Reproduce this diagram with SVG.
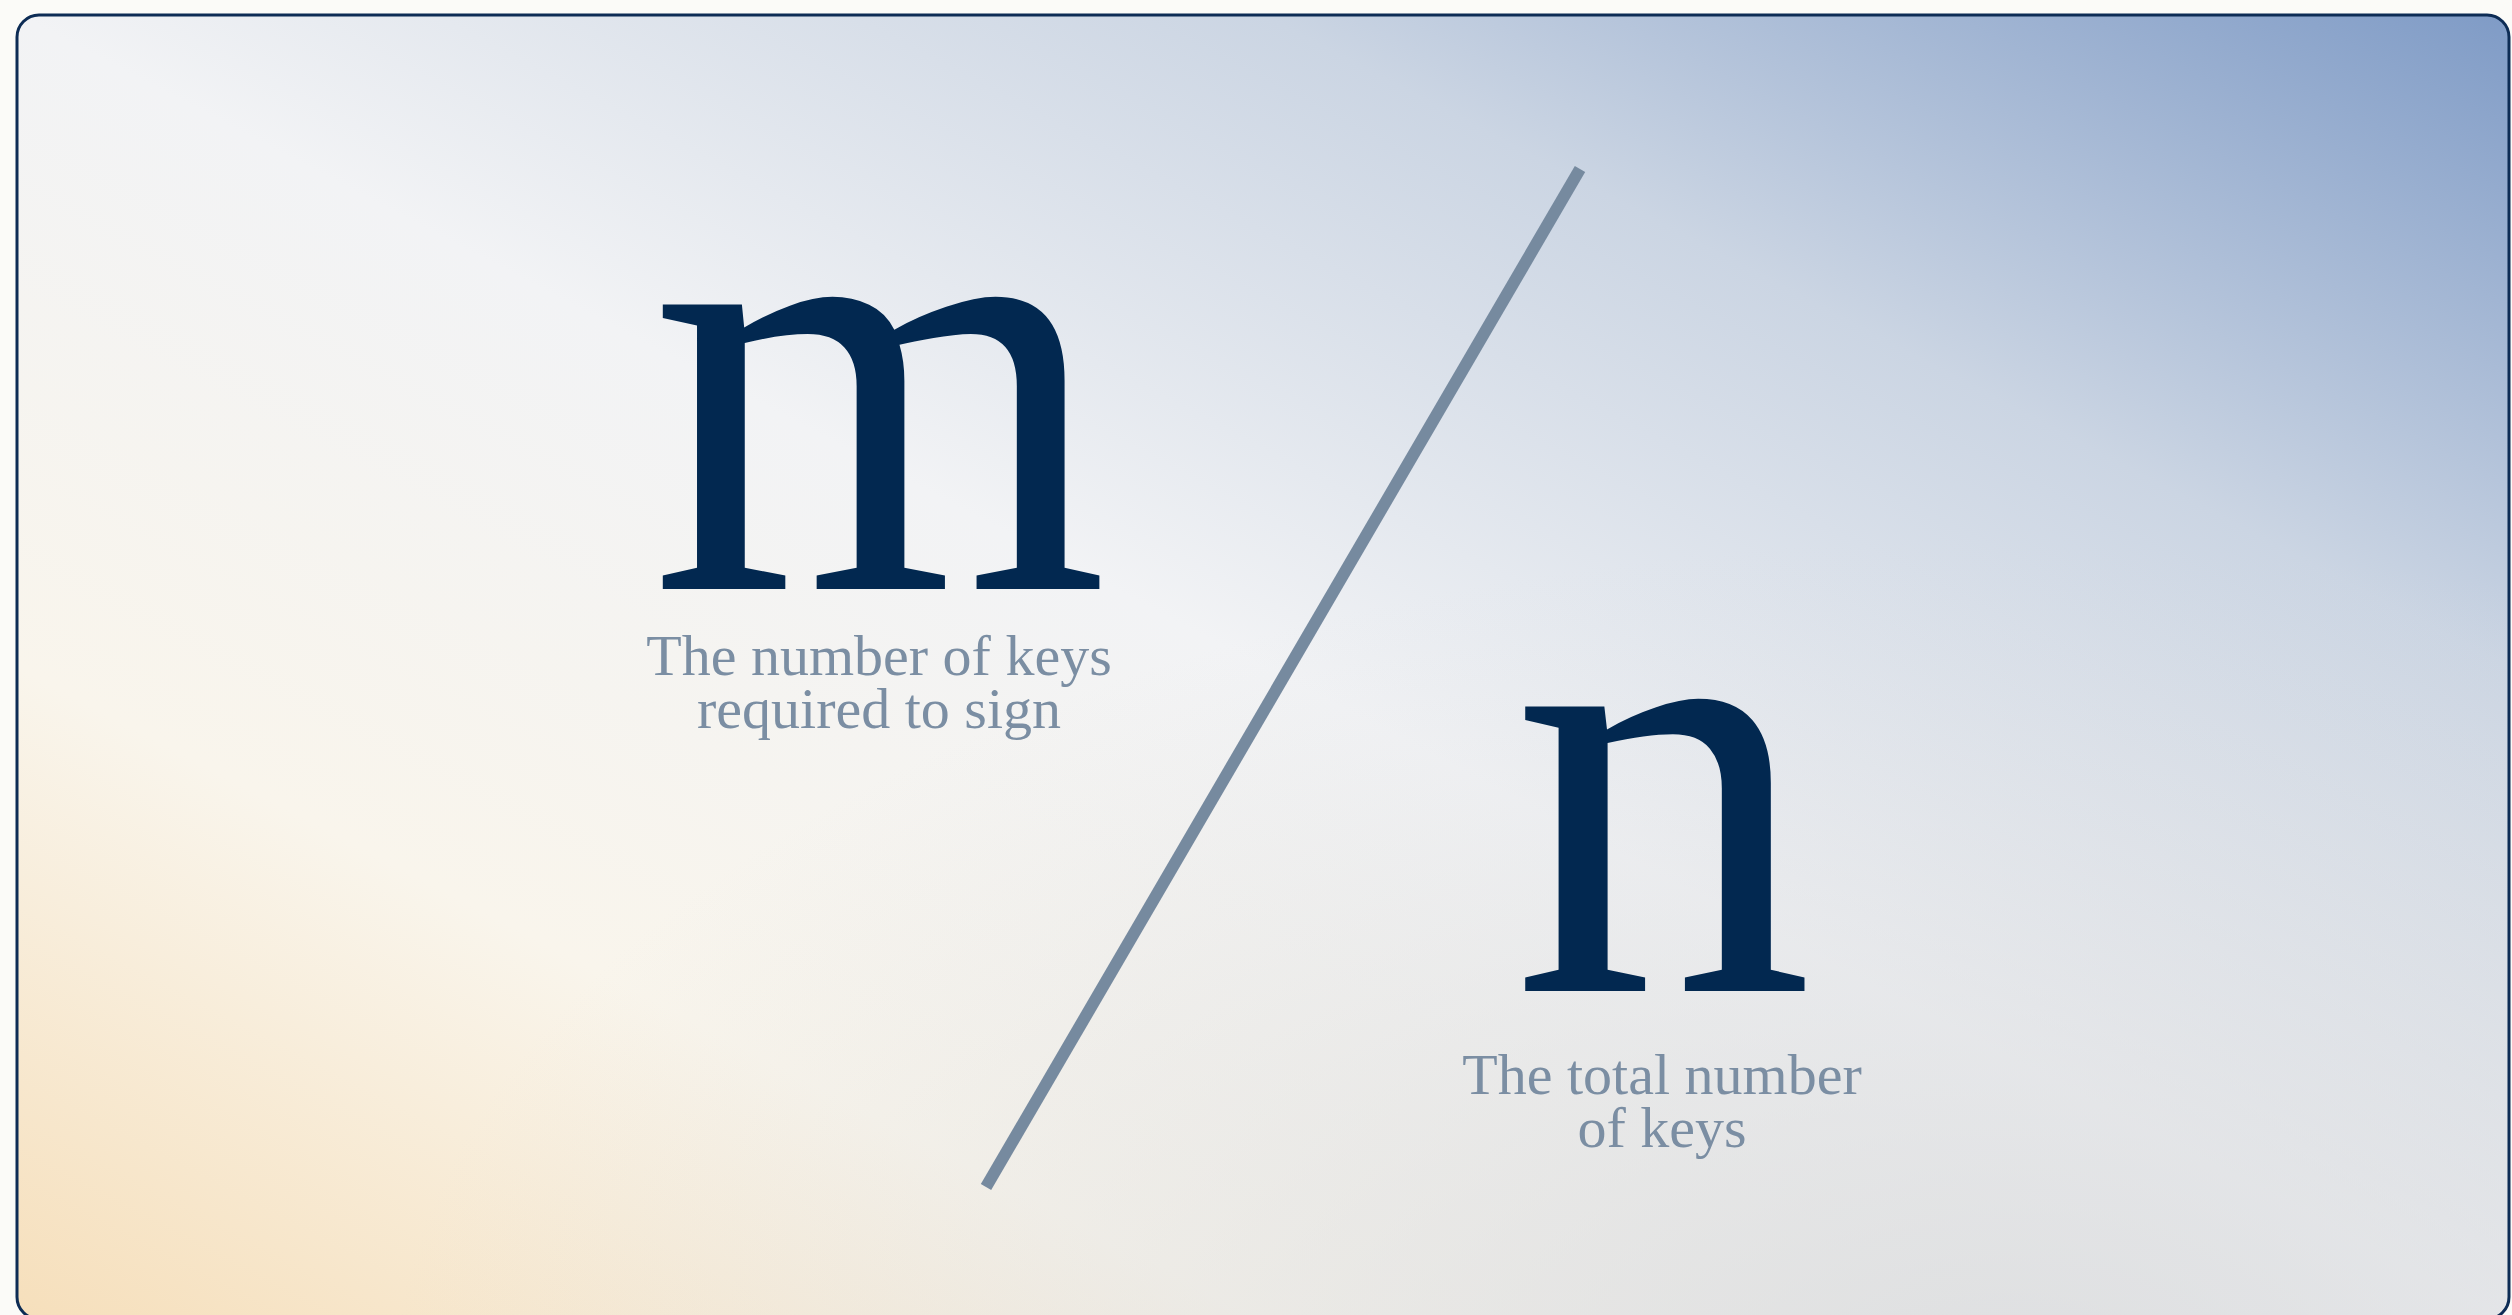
<svg xmlns="http://www.w3.org/2000/svg" width="2512" height="1315" viewBox="0 0 2512 1315">
  <defs>
    <linearGradient id="bgDiag" x1="1" y1="0" x2="0" y2="1">
      <stop offset="0" stop-color="#7f9bc6"/>
      <stop offset="0.25" stop-color="#cbd5e3"/>
      <stop offset="0.5" stop-color="#f2f3f5"/>
      <stop offset="0.75" stop-color="#f9f5ec"/>
      <stop offset="1" stop-color="#f6dfbb"/>
    </linearGradient>
    <radialGradient id="bgShade" cx="0.8" cy="1.05" r="0.65">
      <stop offset="0" stop-color="#d6d8db" stop-opacity="0.75"/>
      <stop offset="1" stop-color="#d6d8db" stop-opacity="0"/>
    </radialGradient>
    <style>
      .big { font-family: "Liberation Serif", "DejaVu Serif", serif; font-size: 620px; fill: #022850; text-anchor: middle; }
      .cap { font-family: "Liberation Serif", "DejaVu Serif", serif; font-size: 58px; fill: #7b8ea3; text-anchor: middle; }
    </style>
  </defs>
  <rect x="0" y="0" width="2512" height="1315" fill="#fbfbf8"/>
  <g id="card">
    <rect x="17" y="15" width="2492" height="1304" rx="22" fill="url(#bgDiag)"/>
    <rect x="17" y="15" width="2492" height="1304" rx="22" fill="url(#bgShade)"/>
    <rect x="17" y="15" width="2492" height="1304" rx="22" fill="none" stroke="#0d2c55" stroke-width="3"/>
  </g>
  <g id="connectors">
    <line x1="1580" y1="169" x2="986" y2="1187" stroke="#768a9f" stroke-width="12"/>
  </g>
  <g id="node-m">
    <text class="big" transform="translate(879.5,589) scale(0.95,1)" x="0" y="0">m</text>
    <text class="cap" x="879" y="675">The number of keys<tspan x="879" dy="53">required to sign</tspan></text>
  </g>
  <g id="node-n">
    <text class="big" transform="translate(1662.5,991) scale(0.975,1)" x="0" y="0">n</text>
    <text class="cap" x="1662" y="1094" font-size="59">The total number<tspan x="1662" dy="53">of keys</tspan></text>
  </g>
</svg>
